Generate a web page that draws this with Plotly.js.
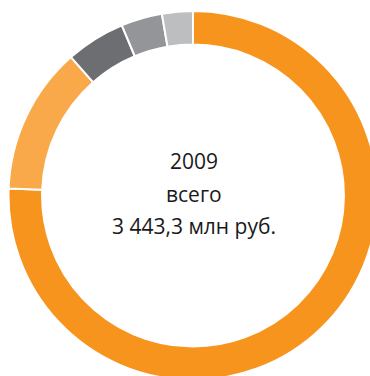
<!DOCTYPE html>
<html>
<head>
<meta charset="utf-8">
<script src="https://cdn.plot.ly/plotly-3.0.1.min.js"></script>
<style>
  html, body { margin: 0; padding: 0; background: #fff; overflow: hidden; width: 370px; height: 376px; }
  #chart { width: 386px; height: 391px; }
</style>
</head>
<body>
<div id="chart"></div>
<script>
// Revenue structure for 2009, mln rub.
const categories = ['Сегмент 1', 'Сегмент 2', 'Сегмент 3', 'Сегмент 4', 'Сегмент 5'];
const values = [2603.3, 444.0, 179.0, 124.0, 93.0];
const colors = ['#F7941D', '#F9A84A', '#6D6E71', '#939598', '#BCBEC0'];
const centerLines = ['2009', 'всего', '3 443,3 млн руб.'];

const W = 386, H = 391;
const centerY = [161, 194, 226];

const trace = {
  type: 'pie',
  labels: categories,
  values: values,
  sort: false,
  direction: 'clockwise',
  rotation: 0,
  hole: 0.818,
  textinfo: 'none',
  hoverinfo: 'label+value',
  marker: { colors: colors, line: { color: '#ffffff', width: 2 } },
  domain: { x: [8.5 / W, 377.5 / W], y: [0.02, 0.98] }
};

const layout = {
  width: W,
  height: H,
  margin: { l: 0, r: 0, t: 0, b: 0 },
  paper_bgcolor: '#ffffff',
  showlegend: false,
  annotations: centerLines.map((t, i) => ({
    text: t,
    xref: 'paper', yref: 'paper',
    x: 194 / W, y: 1 - centerY[i] / H,
    xanchor: 'center', yanchor: 'middle',
    showarrow: false,
    font: { family: 'Open Sans, Noto Sans, sans-serif', size: 21, color: '#1a1a1a' }
  }))
};

Plotly.newPlot('chart', [trace], layout, { staticPlot: true, displayModeBar: false });
</script>
</body>
</html>
